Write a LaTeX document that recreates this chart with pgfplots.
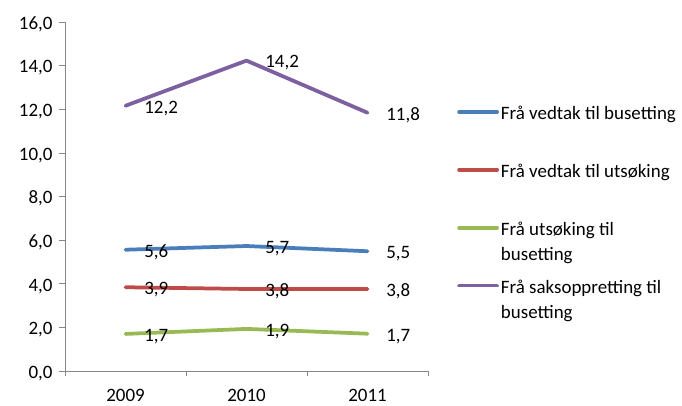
\documentclass[border=0pt]{standalone}
\usepackage{pgfplots}
\pgfplotsset{compat=1.18}
\usepackage{fontspec}
\setmainfont{Carlito}
\definecolor{sblue}{HTML}{4A7EBB}
\definecolor{sred}{HTML}{BE4B48}
\definecolor{sgreen}{HTML}{98B954}
\definecolor{spurple}{HTML}{7D60A0}
\definecolor{axgray}{HTML}{868686}
\newcommand{\cf}{\fontsize{19}{25}\selectfont}
\begin{document}
\begin{tikzpicture}[x=1bp,y=1bp]
\path[use as bounding box] (0,0) rectangle (682,405);
\begin{axis}[
  at={(65bp,34bp)}, anchor=south west,
  scale only axis, width=363bp, height=349bp,
  xmin=2008.5, xmax=2011.5, ymin=0, ymax=16,
  axis x line*=bottom, axis y line*=left,
  axis line style={axgray, line width=0.75bp, -},
  xtick={2009,2010,2011}, xticklabels={2009,2010,2011},
  major x tick style={draw=none},
  minor xtick={2008.5,2009.5,2010.5,2011.5},
  minor x tick style={axgray, line width=0.75bp},
  ytick={0,2,...,16},
  major y tick style={axgray, line width=0.75bp},
  tick align=outside, major tick length=6bp, minor tick length=5bp,
  /pgf/number format/assume math mode=true,
  yticklabel style={/pgf/number format/fixed, /pgf/number format/fixed zerofill, /pgf/number format/precision=1, /pgf/number format/use comma},
  tick label style={font=\cf, black},
  yticklabel style={anchor=base east, yshift=-7.3bp, xshift=-3bp},
  xticklabel style={anchor=base, yshift=-24.5bp},
  nodes near coords style={anchor=base west, inner sep=0pt, xshift=17bp, yshift=-7.3bp, black, font=\cf},
  every axis plot/.append style={line width=3.75bp, line cap=round, line join=round},
  legend image code/.code={\draw[#1] (0bp,0bp) -- (38bp,0bp);},
  legend style={at={(rel axis cs:1.08,0.776)}, anchor=north west, draw=none, fill=none,
    inner sep=0pt, row sep=35bp, font=\cf, cells={anchor=west}},
]
\addplot[sblue, nodes near coords, point meta=explicit symbolic]
  coordinates {(2009,5.56)[5,6] (2010,5.73)[5,7] (2011,5.49)[5,5]};
\addlegendentry{\parbox[t]{180bp}{\strut Frå vedtak til busetting}}
\addplot[sred, nodes near coords, point meta=explicit symbolic]
  coordinates {(2009,3.84)[3,9] (2010,3.76)[3,8] (2011,3.76)[3,8]};
\addlegendentry{\parbox[t]{180bp}{\strut Frå vedtak til utsøking}}
\addplot[sgreen, nodes near coords, point meta=explicit symbolic]
  coordinates {(2009,1.70)[1,7] (2010,1.93)[1,9] (2011,1.71)[1,7]};
\addlegendentry{\parbox[t]{180bp}{\strut Frå utsøking til\\\strut busetting}}
\addplot[spurple, nodes near coords, point meta=explicit symbolic]
  coordinates {(2009,12.16)[12,2] (2010,14.23)[14,2] (2011,11.84)[11,8]};
\addlegendentry{\parbox[t]{180bp}{\strut Frå saksoppretting til\\\strut busetting}}
\end{axis}
\end{tikzpicture}
\end{document}
